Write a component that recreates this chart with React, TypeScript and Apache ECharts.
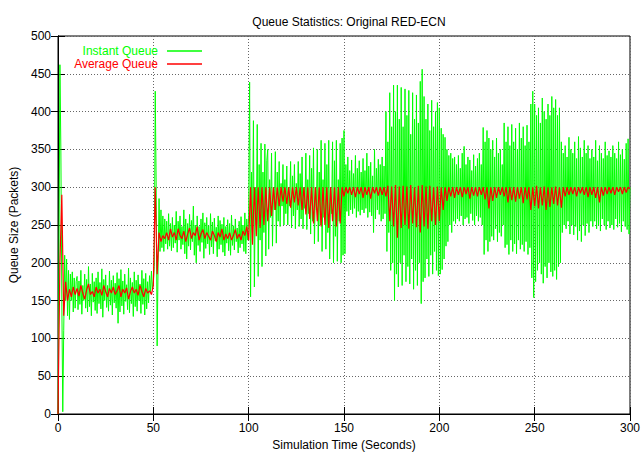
import React, { useEffect, useRef } from "react";
import * as echarts from "echarts";

const TITLE = "Queue Statistics: Original RED-ECN";
const X_NAME = "Simulation Time (Seconds)";
const Y_NAME = "Queue Size (Packets)";
const INSTANT_NAME = "Instant Queue";
const AVERAGE_NAME = "Average Queue";

// Instant queue, sampled every 0.5 s (rows of 10 s)
const INSTANT_STEP = 0.5;
const instantQueue: number[] = [
  0, 200, 462, 350, 150, 3, 110, 210, 150, 205, 130, 190, 125, 185, 150, 188, 135, 180, 140, 175,
  182, 138, 176, 145, 190, 132, 170, 150, 185, 140, 178, 135, 195, 142, 172, 130, 186, 148, 175, 137,
  180, 133, 188, 146, 174, 139, 192, 128, 178, 150, 184, 141, 170, 136, 189, 144, 177, 131, 183, 147,
  173, 140, 187, 120, 179, 135, 191, 143, 176, 132, 185, 149, 171, 138, 193, 134, 180, 146, 174, 129,
  188, 142, 177, 136, 184, 150, 172, 133, 190, 145, 179, 131, 186, 139, 175, 147, 183, 160, 189, 165,
  175, 195, 427, 300, 90, 200, 285, 215, 270, 220, 262, 215, 258, 225, 255, 218, 265, 222, 252, 216,
  260, 220, 250, 226, 268, 214, 255, 230, 262, 218, 248, 224, 270, 212, 258, 205, 252, 222, 264, 217,
  256, 228, 275, 210, 250, 200, 262, 223, 248, 215, 258, 227, 266, 206, 253, 219, 260, 225, 249, 211,
  265, 221, 254, 212, 259, 229, 247, 208, 262, 218, 256, 224, 251, 214, 260, 209, 248, 226, 257, 216,
  252, 210, 263, 223, 249, 217, 258, 228, 246, 213, 255, 220, 261, 225, 250, 215, 266, 212, 258, 230,
  262, 439, 155, 320, 240, 388, 168, 300, 250, 383, 182, 330, 230, 358, 195, 320, 240, 357, 209, 335,
  350, 218, 310, 260, 345, 222, 300, 270, 347, 226, 320, 255, 334, 248, 305, 275, 330, 250, 310, 265,
  328, 250, 300, 275, 334, 246, 315, 262, 330, 245, 305, 270, 334, 248, 318, 258, 340, 245, 300, 272,
  345, 244, 310, 265, 342, 238, 325, 255, 352, 225, 300, 270, 350, 228, 320, 250, 362, 215, 310, 260,
  358, 218, 330, 240, 362, 205, 300, 265, 360, 200, 335, 235, 362, 202, 310, 255, 358, 200, 365, 210,
  375, 212, 330, 268, 340, 262, 322, 270, 336, 265, 318, 272, 342, 260, 325, 268, 335, 263, 320, 270,
  338, 266, 322, 272, 345, 260, 328, 267, 333, 262, 315, 240, 350, 258, 325, 270, 337, 264, 330, 255,
  340, 258, 328, 265, 400, 215, 360, 240, 425, 190, 380, 200, 435, 150, 400, 185, 435, 168, 390, 200,
  432, 170, 380, 210, 430, 175, 395, 195, 428, 172, 370, 205, 425, 165, 390, 190, 422, 170, 385, 200,
  440, 146, 456, 175, 420, 180, 390, 205, 410, 182, 375, 210, 415, 185, 380, 215, 400, 190, 412, 183,
  405, 185, 378, 191, 370, 205, 366, 222, 350, 228, 342, 250, 345, 240, 338, 255, 340, 252, 330, 258,
  342, 255, 325, 262, 345, 250, 354, 258, 330, 260, 340, 252, 336, 265, 322, 256, 343, 250, 328, 262,
  338, 255, 345, 260, 330, 250, 379, 211, 360, 230, 375, 215, 365, 228, 350, 235, 362, 230, 340, 245,
  365, 228, 345, 240, 350, 235, 330, 250, 385, 220, 360, 224, 380, 211, 355, 230, 383, 215, 360, 225,
  378, 212, 350, 230, 385, 218, 365, 224, 380, 215, 355, 228, 382, 211, 360, 220, 410, 180, 427, 154,
  410, 175, 395, 190, 405, 200, 385, 185, 418, 173, 400, 195, 390, 180, 410, 200, 395, 188, 420, 182,
  405, 190, 416, 178, 395, 195, 405, 200, 360, 240, 345, 250, 355, 245, 340, 255, 366, 238, 350, 250,
  345, 237, 360, 248, 338, 230, 367, 242, 352, 228, 340, 250, 362, 236, 345, 252, 355, 240, 338, 255,
  350, 248, 340, 255, 362, 245, 335, 250, 355, 242, 345, 258, 338, 250, 360, 244, 342, 255, 348, 246,
  340, 250, 355, 244, 345, 258, 338, 247, 360, 252, 343, 241, 350, 255, 337, 248, 358, 244, 364, 238,
  300,
];

// Average queue, sampled every 1 s (rows of 10 s)
const AVERAGE_STEP = 1;
const averageQueue: number[] = [
  0, 200, 290, 130, 175, 150, 165, 155, 168, 158,
  166, 156, 170, 160, 152, 164, 172, 158, 162, 155,
  168, 160, 165, 157, 170, 162, 155, 166, 160, 168,
  158, 163, 170, 155, 165, 160, 167, 152, 162, 168,
  160, 165, 157, 170, 162, 155, 166, 160, 163, 158,
  170, 300, 185, 240, 228, 236, 232, 240, 230, 245,
  234, 240, 230, 245, 236, 232, 242, 228, 238, 246,
  232, 240, 236, 248, 230, 238, 244, 232, 240, 235,
  230, 242, 236, 228, 240, 234, 245, 230, 238, 232,
  240, 230, 236, 244, 232, 238, 230, 242, 236, 248,
  230, 300, 224, 300, 235, 300, 246, 300, 250, 300,
  255, 300, 262, 300, 270, 300, 275, 300, 281, 300,
  278, 300, 273, 300, 280, 300, 276, 300, 270, 300,
  264, 300, 258, 300, 252, 300, 255, 300, 248, 300,
  250, 300, 246, 300, 255, 300, 248, 300, 252, 300,
  288, 300, 292, 300, 290, 300, 287, 300, 291, 300,
  286, 300, 290, 300, 285, 300, 292, 300, 289, 300,
  290, 300, 288, 302, 255, 301, 248, 303, 233, 301,
  246, 302, 250, 301, 245, 303, 252, 300, 247, 302,
  240, 303, 248, 301, 245, 302, 255, 300, 250, 301,
  255, 300, 270, 300, 282, 300, 288, 300, 286, 300,
  290, 300, 287, 300, 291, 300, 285, 300, 289, 300,
  288, 300, 290, 300, 284, 300, 272, 300, 282, 300,
  286, 300, 290, 300, 288, 300, 280, 300, 283, 300,
  281, 300, 285, 300, 279, 300, 284, 300, 270, 300,
  275, 302, 272, 300, 276, 301, 270, 300, 274, 300,
  278, 301, 276, 300, 273, 300, 288, 300, 290, 300,
  291, 300, 288, 300, 292, 300, 290, 300, 287, 300,
  290, 300, 286, 300, 280, 300, 289, 300, 291, 300,
  292, 300, 290, 300, 294, 300, 291, 300, 293, 300,
  298,
];

const X_MIN = 0;
const X_MAX = 300;
const X_INTERVAL = 50;
const Y_MIN = 0;
const Y_MAX = 500;
const Y_INTERVAL = 50;

const FONT = "Liberation Sans, Arial, Helvetica, sans-serif";

export default function App() {
  const ref = useRef<HTMLDivElement>(null);

  useEffect(() => {
    if (!ref.current) return;
    const chart = echarts.init(ref.current, undefined, { renderer: "svg" });

    const instData = instantQueue.map((v, i) => [i * INSTANT_STEP, v]);
    const avgData = averageQueue.map((v, i) => [i * AVERAGE_STEP, v]);

    const gridLine = { show: true, lineStyle: { color: "#666", type: [1, 2] as any, width: 1 } };
    const baseText = { color: "#000", fontFamily: FONT, fontSize: 12 };

    chart.setOption({
      animation: false,
      backgroundColor: "#fff",
      title: {
        text: TITLE,
        left: 344,
        textAlign: "center",
        top: 11,
        textStyle: { ...baseText, fontWeight: "normal" },
      },
      grid: {
        left: 57,
        top: 36,
        width: 575,
        height: 381,
        show: true,
        borderColor: "#000",
        borderWidth: 1,
        backgroundColor: "transparent",
      },
      legend: [
        {
          data: [{ name: INSTANT_NAME, textStyle: { color: "#00ff00" } }],
          right: 436,
          top: 40,
          align: "right",
          icon: "rect",
          itemWidth: 35,
          itemHeight: 1.5,
          textStyle: { ...baseText, padding: [0, 4, 0, 0] },
        },
        {
          data: [{ name: AVERAGE_NAME, textStyle: { color: "#ff0000" } }],
          right: 436,
          top: 53,
          align: "right",
          icon: "rect",
          itemWidth: 35,
          itemHeight: 1.5,
          textStyle: { ...baseText, padding: [0, 4, 0, 0] },
        },
      ],
      xAxis: [
        {
          type: "value",
          min: X_MIN,
          max: X_MAX,
          interval: X_INTERVAL,
          name: X_NAME,
          nameLocation: "middle",
          nameGap: 25,
          nameTextStyle: baseText,
          axisLine: { show: true, lineStyle: { color: "#000", width: 1 } },
          axisTick: { show: true, inside: true, length: 7, lineStyle: { color: "#000" } },
          axisLabel: { ...baseText, margin: 8 },
          splitLine: gridLine,
        },
        {
          type: "value",
          position: "top",
          min: X_MIN,
          max: X_MAX,
          interval: X_INTERVAL,
          axisLine: { show: true, lineStyle: { color: "#000", width: 1 } },
          axisTick: { show: true, inside: true, length: 7, lineStyle: { color: "#000" } },
          axisLabel: { show: false },
          splitLine: { show: false },
        },
      ],
      yAxis: [
        {
          type: "value",
          min: Y_MIN,
          max: Y_MAX,
          interval: Y_INTERVAL,
          name: Y_NAME,
          nameLocation: "middle",
          nameGap: 38,
          nameRotate: 90,
          nameTextStyle: baseText,
          axisLine: { show: true, lineStyle: { color: "#000", width: 1 } },
          axisTick: { show: true, inside: true, length: 7, lineStyle: { color: "#000" } },
          axisLabel: { ...baseText, margin: 7 },
          splitLine: gridLine,
        },
        {
          type: "value",
          position: "right",
          min: Y_MIN,
          max: Y_MAX,
          interval: Y_INTERVAL,
          axisLine: { show: true, lineStyle: { color: "#000", width: 1 } },
          axisTick: { show: true, inside: true, length: 7, lineStyle: { color: "#000" } },
          axisLabel: { show: false },
          splitLine: { show: false },
        },
      ],
      series: [
        {
          name: INSTANT_NAME,
          type: "line",
          data: instData,
          showSymbol: false,
          symbol: "none",
          color: "#00ff00",
          lineStyle: { color: "#00ff00", width: 1 },
          z: 2,
        },
        {
          name: AVERAGE_NAME,
          type: "line",
          data: avgData,
          showSymbol: false,
          symbol: "none",
          color: "#ff0000",
          lineStyle: { color: "#ff0000", width: 1.2 },
          z: 3,
        },
      ],
    });

    return () => chart.dispose();
  }, []);

  return (
    <div
      ref={ref}
      style={{ position: "fixed", left: 0, top: 0, width: 643, height: 456, background: "#fff" }}
    />
  );
}
